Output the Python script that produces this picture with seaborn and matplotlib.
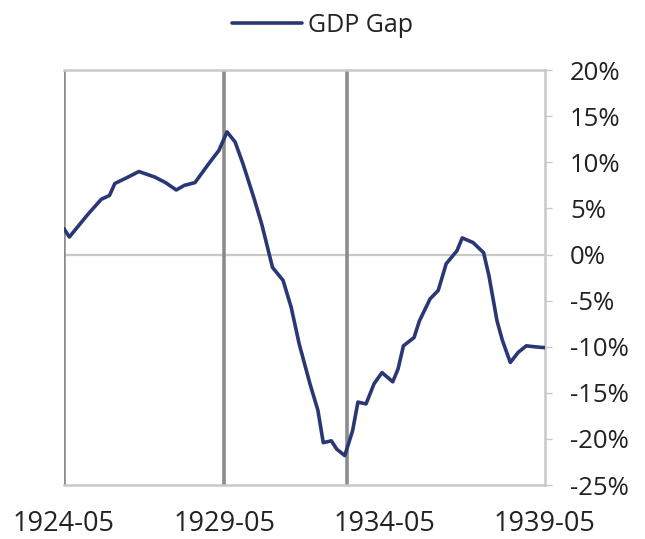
import matplotlib
matplotlib.use("Agg")
import matplotlib.pyplot as plt
import matplotlib.ticker as mticker
import seaborn as sns
import pandas as pd

dates = ["1924-05", "1924-07", "1925-02", "1925-07", "1925-10", "1925-12", "1926-05",
         "1926-09", "1927-03", "1927-07", "1927-11", "1928-02", "1928-06", "1928-11",
         "1929-03", "1929-06", "1929-09", "1929-12", "1930-04", "1930-07", "1930-11",
         "1931-03", "1931-06", "1931-09", "1932-01", "1932-04", "1932-06", "1932-09",
         "1932-11", "1933-02", "1933-05", "1933-07", "1933-10", "1934-01", "1934-04",
         "1934-08", "1934-10", "1934-12", "1935-04", "1935-06", "1935-10", "1936-01",
         "1936-04", "1936-08", "1936-10", "1937-02", "1937-06", "1937-08", "1937-11",
         "1938-01", "1938-04", "1938-07", "1938-10", "1939-01", "1939-05"]
gdp_gap = [2.8, 1.9, 4.4, 6.0, 6.4, 7.7, 8.4,
           9.0, 8.4, 7.8, 7.0, 7.5, 7.8, 9.8,
           11.3, 13.3, 12.2, 9.8, 6.2, 3.3, -1.4,
           -2.8, -5.7, -9.7, -14.0, -16.9, -20.4, -20.2,
           -21.1, -21.8, -19.1, -16.0, -16.2, -14.0, -12.8,
           -13.8, -12.4, -9.9, -9.0, -7.2, -4.8, -3.9,
           -1.0, 0.4, 1.8, 1.3, 0.2, -2.3, -7.2,
           -9.3, -11.7, -10.6, -9.9, -10.0, -10.1]
event_dates = ["1924-05", "1929-05", "1933-03"]
x_ticks = ["1924-05", "1929-05", "1934-05", "1939-05"]
y_ticks = [20, 15, 10, 5, 0, -5, -10, -15, -20, -25]
series_name = "GDP Gap"

sns.set_style("white")
plt.rcParams["font.family"] = ["Open Sans", "DejaVu Sans"]

df = pd.DataFrame({"date": pd.to_datetime(dates), "value": gdp_gap})

fig = plt.figure(figsize=(6.45, 5.39), dpi=100)
ax = fig.add_axes([0.0992, 0.100, 0.7457, 0.770])

ax.axhline(0, color="#c8c8c8", lw=1.6, zorder=1)
for ed in event_dates:
    ax.axvline(pd.Timestamp(ed), color="#8c8c8c", lw=2.6, zorder=1)

sns.lineplot(data=df, x="date", y="value", ax=ax, color="#2a3775", lw=2.6,
             label=series_name, zorder=3)

ax.set_xlim(pd.Timestamp(x_ticks[0]), pd.Timestamp(x_ticks[-1]))
ax.set_ylim(-25, 20)

ax.yaxis.tick_right()
ax.set_yticks(y_ticks)
ax.yaxis.set_major_formatter(mticker.FuncFormatter(lambda v, p: f"{v:.0f}%"))
ax.tick_params(axis="y", which="major", length=5, width=1, color="#c8c8c8",
               labelsize=18.5, pad=13, labelcolor="#222222", right=True, left=False)
ax.set_xticks([pd.Timestamp(t) for t in x_ticks])
ax.set_xticklabels(x_ticks)
ax.tick_params(axis="x", length=0, labelsize=19.5, pad=18, labelcolor="#222222")
ax.set_xlabel("")
ax.set_ylabel("")

for side in ["top", "bottom", "right"]:
    ax.spines[side].set_visible(True)
    ax.spines[side].set_color("#c8c8c8")
    ax.spines[side].set_linewidth(1.8)
ax.spines["left"].set_visible(False)

ax.get_legend().remove()
handles, labels = ax.get_legend_handles_labels()
fig.legend(handles, labels, loc="center", bbox_to_anchor=(0.5, 0.953),
           frameon=False, fontsize=18, handlelength=2.8, handletextpad=0.25,
           labelcolor="#222222")

fig.savefig("out.png", dpi=100, facecolor="white")
